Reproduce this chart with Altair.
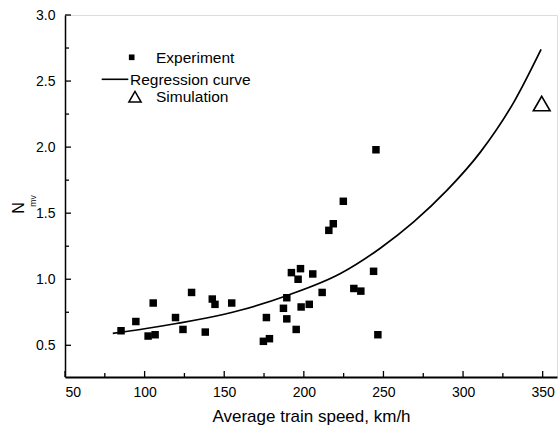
import altair as alt
import pandas as pd

# ---- data ----
exp_speed = [85.2, 94.5, 105.4, 102.2, 106.6, 119.4, 129.5, 124.1, 142.5, 144.2, 138.1, 154.7,
             245.3, 224.8, 218.5, 215.7, 192.2, 197.9, 196.4, 205.6, 243.8, 211.5, 231.4, 235.8,
             189.3, 187.2, 198.3, 203.4, 176.5, 189.3, 195.2, 178.4, 174.6, 246.5]
exp_nmv = [0.61, 0.68, 0.82, 0.57, 0.58, 0.71, 0.90, 0.62, 0.85, 0.81, 0.60, 0.82,
           1.98, 1.59, 1.42, 1.37, 1.05, 1.08, 1.00, 1.04, 1.06, 0.90, 0.93, 0.91,
           0.86, 0.78, 0.79, 0.81, 0.71, 0.70, 0.62, 0.55, 0.53, 0.58]

reg_speed = [80, 100, 120, 150, 160, 190, 223, 248, 269, 290, 311, 332, 349]
reg_nmv = [0.59, 0.625, 0.665, 0.735, 0.765, 0.879, 1.043, 1.235, 1.434, 1.674, 1.964, 2.343, 2.74]

sim_speed = [349.4]
sim_nmv = [2.33]

x_major = [50, 100, 150, 200, 250, 300, 350]
x_minor = [75, 125, 175, 225, 275, 325]
y_major = [0.5, 1.0, 1.5, 2.0, 2.5, 3.0]
y_minor = [0.75, 1.25, 1.75, 2.25, 2.75]

legend_labels = ["Experiment", "Regression curve", "Simulation"]
x_title = "Average train speed, km/h"
y_title_main = "N"
y_title_sub = "mv"

FONT = "Liberation Sans"
W, H = 492, 362

xs = alt.Scale(domain=[50, 359], nice=False, zero=False)
ys = alt.Scale(domain=[0.26, 3.0], nice=False, zero=False)

exp_df = pd.DataFrame({"speed": exp_speed, "nmv": exp_nmv})
reg_df = pd.DataFrame({"speed": reg_speed, "nmv": reg_nmv})
sim_df = pd.DataFrame({"speed": sim_speed, "nmv": sim_nmv})

x_axis = alt.Axis(values=x_major, format="d", title=x_title, grid=False, ticks=False,
                  tickSize=0, labelPadding=8, labelFontSize=14, titleFontSize=17,
                  titlePadding=9, titleFontWeight="normal", domainWidth=2,
                  domainColor="black", labelColor="black", titleColor="black",
                  labelFont=FONT, titleFont=FONT)
y_axis = alt.Axis(values=y_major, format=".1f", title=None, grid=False, ticks=False,
                  tickSize=0, labelPadding=10, labelFontSize=14, domainWidth=1.5,
                  domainColor="black", labelColor="black", labelFont=FONT)

base_line = alt.Chart(reg_df).mark_line(color="black", strokeWidth=1.7, interpolate="monotone").encode(
    x=alt.X("speed:Q", scale=xs, axis=x_axis),
    y=alt.Y("nmv:Q", scale=ys, axis=y_axis),
)

pts = alt.Chart(exp_df).mark_square(size=56, color="black", opacity=1).encode(
    x=alt.X("speed:Q", scale=xs), y=alt.Y("nmv:Q", scale=ys))

sim = alt.Chart(sim_df).mark_point(shape="triangle-up", size=280, filled=False,
                                   stroke="black", strokeWidth=1.6, opacity=1).encode(
    x=alt.X("speed:Q", scale=xs), y=alt.Y("nmv:Q", scale=ys))

# inward ticks
xmaj = alt.Chart(pd.DataFrame({"v": x_major})).mark_rule(color="black", strokeWidth=1.3).encode(
    x=alt.X("v:Q", scale=xs), y=alt.value(H), y2=alt.value(H - 6))
xmin = alt.Chart(pd.DataFrame({"v": x_minor})).mark_rule(color="black", strokeWidth=1.3).encode(
    x=alt.X("v:Q", scale=xs), y=alt.value(H), y2=alt.value(H - 4))
ymaj = alt.Chart(pd.DataFrame({"v": y_major})).mark_rule(color="black", strokeWidth=1.3).encode(
    y=alt.Y("v:Q", scale=ys), x=alt.value(0), x2=alt.value(6))
ymin = alt.Chart(pd.DataFrame({"v": y_minor})).mark_rule(color="black", strokeWidth=1.3).encode(
    y=alt.Y("v:Q", scale=ys), x=alt.value(0), x2=alt.value(4))

# y title N_mv
one = pd.DataFrame({"a": [0]})
ytitle_n = alt.Chart(one).mark_text(font=FONT, fontSize=16, angle=270, align="center",
                                    baseline="middle", color="black").encode(
    text=alt.value(y_title_main), x=alt.value(-46), y=alt.value(193))
ytitle_s = alt.Chart(one).mark_text(font=FONT, fontSize=8.5, angle=270, align="center",
                                    baseline="middle", color="black").encode(
    text=alt.value(y_title_sub), x=alt.value(-32), y=alt.value(186))

# legend
leg_sq = alt.Chart(one).mark_square(size=32, color="black", opacity=1).encode(
    x=alt.value(66.7), y=alt.value(42.3))
leg_ln = alt.Chart(one).mark_rule(color="black", strokeWidth=1.6).encode(
    x=alt.value(36.7), x2=alt.value(63.3), y=alt.value(64.3))
leg_tri = alt.Chart(one).mark_point(shape="triangle-up", size=150, filled=False, stroke="black",
                                    strokeWidth=1.5, opacity=1).encode(
    x=alt.value(70), y=alt.value(81.7))

def leg_text(label, x, y):
    return alt.Chart(pd.DataFrame({"label": [label]})).mark_text(
        font=FONT, fontSize=15.5, align="left", baseline="middle", color="black").encode(
        text="label:N", x=alt.value(x), y=alt.value(y))

chart = alt.layer(
    base_line, pts, sim, xmaj, xmin, ymaj, ymin, ytitle_n, ytitle_s,
    leg_sq, leg_ln, leg_tri,
    leg_text(legend_labels[0], 91, 42.5),
    leg_text(legend_labels[1], 65, 64.5),
    leg_text(legend_labels[2], 91, 82),
).properties(
    width=W, height=H,
    autosize=alt.AutoSizeParams(type="none"),
    padding={"left": 65, "top": 15, "right": 2, "bottom": 50},
).configure_view(stroke="black", strokeWidth=1.5).configure(background="white")

chart.save("out.html", embed_options={"renderer": "svg", "actions": False})
